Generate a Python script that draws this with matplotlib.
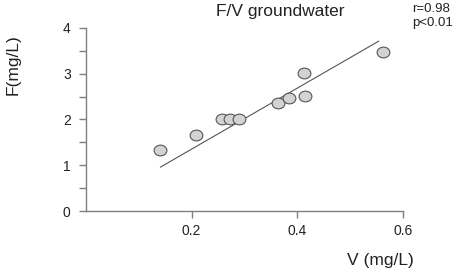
"""Scatter of F vs V in groundwater with a linear fit."""

import matplotlib

matplotlib.use("Agg")
import matplotlib.pyplot as plt
import numpy as np
from matplotlib.path import Path
from matplotlib.ticker import MultipleLocator, FixedLocator, FuncFormatter

plt.rcParams["font.family"] = ["Liberation Sans", "DejaVu Sans"]

# measured samples
v_mgl = [0.140, 0.208, 0.257, 0.272, 0.289, 0.363, 0.384, 0.413, 0.414, 0.562]
f_mgl = [1.33, 1.66, 2.00, 2.02, 2.00, 2.37, 2.46, 3.01, 2.51, 3.47]

# fitted line end points (x range and coefficients)
fit_x = [0.141, 0.554]
fit_slope = 6.66
fit_intercept = 0.02

x_ticks = [0.2, 0.4, 0.6]
y_ticks = [0, 1, 2, 3, 4]

GREY = "#7f7f7f"


def main() -> None:
    fig = plt.figure(figsize=(4.54, 2.70), dpi=100)
    ax = fig.add_axes([0.1894, 0.2185, 0.698, 0.678])

    # slightly flattened circle, like the original markers
    circle = Path.unit_circle()
    ellipse = Path(circle.vertices * np.array([1.0, 0.84]), circle.codes)

    xs = np.array(fit_x)
    ax.plot(xs, fit_slope * xs + fit_intercept, color="#555555", lw=0.8, zorder=2)
    ax.plot(v_mgl, f_mgl, linestyle="none", marker=ellipse, markersize=9.2,
            markerfacecolor="#d3d3d3", markeredgecolor="#555555",
            markeredgewidth=0.8, zorder=3)

    ax.set_xlim(0, 0.6)
    ax.set_ylim(0, 4)
    ax.xaxis.set_major_locator(FixedLocator(x_ticks))
    ax.yaxis.set_major_locator(MultipleLocator(0.5))
    ax.yaxis.set_major_formatter(
        FuncFormatter(lambda v, _: f"{v:.0f}" if v in y_ticks else ""))

    for side in ("top", "right"):
        ax.spines[side].set_visible(False)
    for side in ("left", "bottom"):
        ax.spines[side].set_color(GREY)
        ax.spines[side].set_linewidth(1.0)
    ax.tick_params(axis="both", direction="out", length=5, width=1.0,
                   color=GREY, labelsize=10, labelcolor="#222222")
    ax.tick_params(axis="y", pad=6)
    ax.tick_params(axis="x", pad=4)

    fig.text(0.617, 0.958, "F/V groundwater", ha="center", va="center",
             fontsize=12.5, color="#222222")
    fig.text(0.907, 0.965, "r=0.98", ha="left", va="center", fontsize=9.5,
             color="#222222")
    fig.text(0.907, 0.915, "p<0.01", ha="left", va="center", fontsize=9.5,
             color="#222222")
    fig.text(0.838, 0.037, "V (mg/L)", ha="center", va="center",
             fontsize=12.5, color="#222222")
    fig.text(0.03, 0.76, "F(mg/L)", ha="center", va="center", rotation=90,
             fontsize=12.5, color="#222222")

    fig.savefig("out.png", dpi=100)
    plt.close(fig)


if __name__ == "__main__":
    main()
